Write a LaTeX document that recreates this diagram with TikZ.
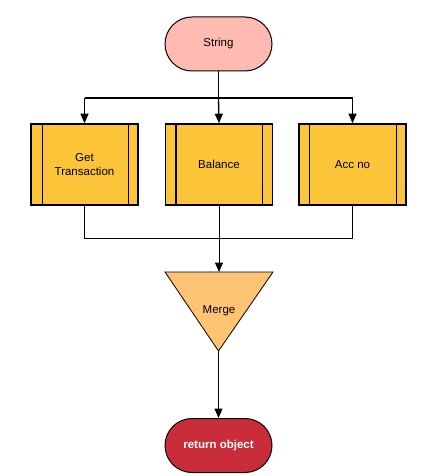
\documentclass[tikz,border=0pt]{standalone}
\usepackage{fontspec}
\setmainfont{Liberation Sans}
\usetikzlibrary{arrows.meta,shapes.geometric}
\definecolor{pinkfill}{HTML}{FFBBB1}
\definecolor{procfill}{HTML}{FCC438}
\definecolor{mergefill}{HTML}{FFC374}
\definecolor{retfill}{HTML}{C92D39}
\begin{document}
\begin{tikzpicture}[x=1pt,y=-1pt,
  term/.style={draw=black,line width=1pt,rounded corners=27pt,minimum width=107pt,minimum height=54pt,inner sep=0pt,font=\fontsize{11.5}{13}\selectfont},
  proc/.style={draw=black,line width=1.6pt,fill=procfill,minimum width=107pt,minimum height=81pt,inner sep=0pt,align=center,font=\fontsize{11.5}{13.5}\selectfont},
  conn/.style={draw=black,line width=1.3pt,-{Triangle[length=9.5pt,width=8pt]}},
  thin/.style={draw=black,line width=1pt}]
\useasboundingbox (0,0) rectangle (445,476);
\node[term,fill=pinkfill] (str) at (218.5,44) {String};
\node[proc] (gt) at (84.5,164.5) {Get\\Transaction};
\node[proc] (bal) at (219,164.5) {Balance};
\node[proc] (acc) at (352.5,164.5) {Acc no};
% inner vertical lines
\draw[line width=1pt] (42,124) -- (42,205) (128,124) -- (128,205);
\draw[line width=1.6pt] (176,124) -- (176,205);
\draw[line width=1pt] (262,124) -- (262,205);
\draw[line width=1pt] (309,124) -- (309,205) (396,124) -- (396,205);
% merge triangle
\coordinate (mtl) at (165,272);
\coordinate (mtr) at (273,272);
\coordinate (mbot) at (218.5,351);
\filldraw[fill=mergefill,draw=black,line width=0.8pt] (mtl) -- (mtr) -- (mbot) -- cycle;
\node[font=\fontsize{11.5}{13}\selectfont] (merge) at (219,311) {Merge};
\coordinate (mtop) at (219,272);
\node[term,fill=retfill,text=white,font=\bfseries\fontsize{11.5}{13}\selectfont] (ret) at (218.5,445.5) {return object};
% connectors
\coordinate (bar) at (218.5,98);
\draw[line width=1.3pt] (str.south) -- (bar);
\draw[line width=2pt] (84.5,98) -- (352.5,98);
\draw[conn] (84.5,98) -- (gt.north);
\draw[conn] (bar) -- (bal.north);
\draw[conn] (352.5,98) -- (acc.north);
\coordinate (jn) at (219,238);
\draw[thin] (gt.south) |- (jn);
\draw[thin] (acc.south) |- (jn);
\draw[conn,line width=1pt] (bal.south) -- (mtop);
\draw[conn,line width=1pt] (mbot) -- (ret.north);
\end{tikzpicture}
\end{document}
